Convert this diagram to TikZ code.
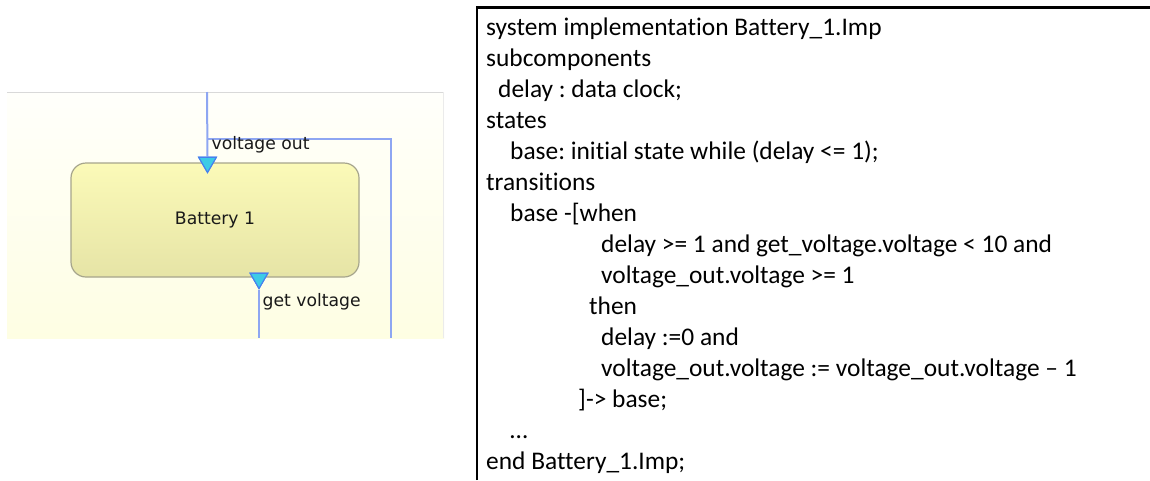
\documentclass[tikz,border=0pt]{standalone}
\usepackage{fontspec}
\setmainfont[Ligatures={NoCommon}]{Carlito}
\newfontfamily\guifont{DejaVu Sans}
\usetikzlibrary{shapes.geometric}

\definecolor{wire}{HTML}{8EA6F2}
\definecolor{portfill}{HTML}{3CCBE6}
\definecolor{portedge}{HTML}{4680EE}
\definecolor{boxtop}{HTML}{FBFAB8}
\definecolor{boxbot}{HTML}{E6E4A6}
\definecolor{boxedge}{HTML}{A6A58C}
\definecolor{paneltop}{HTML}{FFFFFB}
\definecolor{panelbot}{HTML}{FEFEE3}

\tikzset{
  block/.style={draw=boxedge, line width=1.2pt, rounded corners=15pt,
    top color=boxtop, bottom color=boxbot, inner sep=0pt,
    minimum width=288pt, minimum height=114pt,
    font=\guifont\fontsize{17.2}{20}\selectfont, text=black!90},
  port/.style={regular polygon, regular polygon sides=3, shape border rotate=180,
    minimum size=20.4pt, inner sep=0pt, fill=portfill, draw=portedge, line width=1.1pt},
  wireline/.style={draw=wire, line width=2pt},
  portlabel/.style={anchor=base west, inner sep=0pt,
    font=\guifont\fontsize{17.2}{20}\selectfont, text=black!90},
  codeline/.style={anchor=base west, inner sep=0pt,
    font=\fontsize{25.4}{31}\selectfont\frenchspacing, text=black}
}

\begin{document}
\begin{tikzpicture}[x=1pt,y=-1pt]
\useasboundingbox (0,0) rectangle (1150,480);
\fill[white] (0,0) rectangle (1150,480);

% ---------- graphical view ----------
\fill[top color=paneltop, bottom color=panelbot] (7,92) rectangle (444,338);
\draw[black!15, line width=0.8pt] (7,92.4) -- (444,92.4);
\draw[black!8, line width=0.6pt] (443.7,92.4) -- (443.7,338);

\node[block] (bat) at (215,220) {Battery 1};

\node[port] (vout) at (207.5,162.3) {};
\node[port] (gvolt) at (259,278.3) {};

\coordinate (vin)   at (207,92);
\coordinate (split) at (207,138.5);
\coordinate (turn)  at (391,138.5);
\coordinate (rend)  at (391,338);
\coordinate (gend)  at (259,338);

\draw[wireline] (vin) -- (vout.north);
\draw[wireline] (split) -- (turn) -- (rend);
\draw[wireline] (gvolt.south) -- (gend);

\node[port] at (vout) {};
\node[port] at (gvolt) {};

\node[portlabel] (voutlbl) at (211.5,149) {voltage out};
\node[portlabel] (gvoltlbl) at (262.5,306.5) {get voltage};

% ---------- textual specification ----------
\draw[black, line width=2.2pt] (477,480) -- (477,7.4) -- (1150,7.4);

\node[codeline] (c1)  at (486,35)  {system implementation Battery\_1.Imp};
\node[codeline] (c2)  at (486,66)  {subcomponents};
\node[codeline] (c3)  at (498,97)  {delay : data clock;};
\node[codeline] (c4)  at (486,128) {states};
\node[codeline] (c5)  at (510,159) {base: initial state while (delay <= 1);};
\node[codeline] (c6)  at (486,190) {transitions};
\node[codeline] (c7)  at (510,221) {base -[when};
\node[codeline] (c8)  at (601,252) {delay >= 1 and get\_voltage.voltage < 10 and};
\node[codeline] (c9)  at (601,283) {voltage\_out.voltage >= 1};
\node[codeline] (c10) at (589,314) {then};
\node[codeline] (c11) at (601,345) {delay :=0 and};
\node[codeline] (c12) at (601,376) {voltage\_out.voltage := voltage\_out.voltage – 1};
\node[codeline] (c13) at (578,407) {]-> base;};
\node[codeline] (c14) at (510,438) {…};
\node[codeline] (c15) at (486,469) {end Battery\_1.Imp;};
\end{tikzpicture}
\end{document}
